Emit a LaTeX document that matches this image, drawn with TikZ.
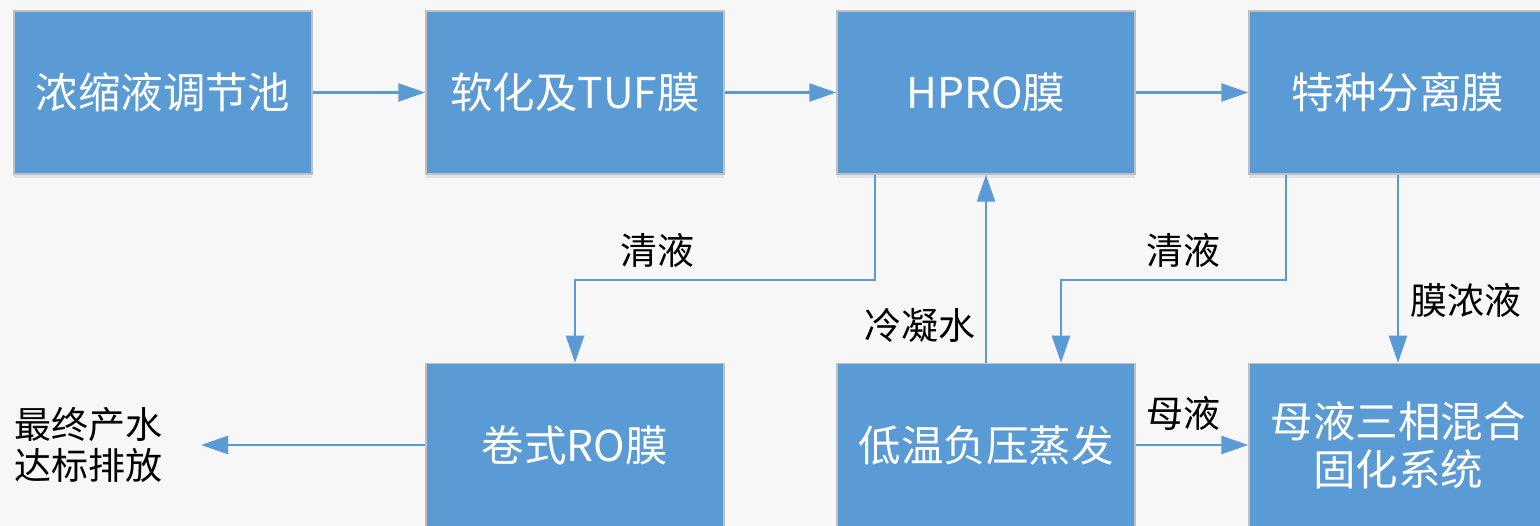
\documentclass[tikz,border=0pt]{standalone}
\usepackage{fontspec}
\setmainfont{Noto Sans CJK SC}
\usetikzlibrary{arrows.meta,shadows}
\definecolor{boxblue}{HTML}{5B9BD5}
\definecolor{boxedge}{HTML}{C0C0C0}
\definecolor{bg}{HTML}{F7F7F7}
\tikzset{
  procbox/.style={draw=boxedge, line width=1.5pt, fill=boxblue, text=white,
    minimum width=298pt, minimum height=163pt, inner sep=0pt, align=center,
    font=\fontsize{42.5}{48}\selectfont,
    drop shadow={shadow xshift=0pt, shadow yshift=-4pt, opacity=0.12, fill=boxblue!60!black}},
  arr/.style={draw=boxblue, line width=2.5pt, -{Triangle[length=27pt,width=18pt]}},
  lbl/.style={text=black, font=\fontsize{37}{41}\selectfont, inner sep=0pt, align=left}
}
\begin{document}
\begin{tikzpicture}[x=1pt,y=-1pt]
\fill[bg] (0,0) rectangle (1540,526);
\useasboundingbox (0,0) rectangle (1540,526);
\clip (0,0) rectangle (1540,526);

\node[procbox] (b1) at (163,92.5) {浓缩液调节池};
\node[procbox] (b2) at (575,92.5) {软化及TUF膜};
\node[procbox] (b3) at (986,92.5) {HPRO膜};
\node[procbox] (b4) at (1398,92.5) {特种分离膜};
\node[procbox] (ro) at (575,445) {卷式RO膜};
\node[procbox] (ev) at (986,445) {低温负压蒸发};
\node[procbox] (mix) at (1398,445) {母液三相混合\\固化系统};

\node[lbl, anchor=west] (out) at (14,445) {最终产水\\达标排放};
\coordinate (outtip) at (201,445);

\node[lbl] (l1) at (657,250) {清液};
\node[lbl] (l2) at (920,325) {冷凝水};
\node[lbl] (l3) at (1183,250) {清液};
\node[lbl] (l4) at (1466,300) {膜浓液};
\node[lbl] (l5) at (1183,413) {母液};

\draw[arr] (b1) -- (b2);
\draw[arr] (b2) -- (b3);
\draw[arr] (b3) -- (b4);

\coordinate (k1) at (875,280);
\draw[arr] (b3.south -| k1) -- (k1) -| (ro.north);

\coordinate (k2) at (1286,280);
\coordinate (k3) at (1061,280);
\draw[arr] (b4.south -| k2) -- (k2) -- (k3) -- (ev.north -| k3);

\draw[arr] (ev) -- (b3);
\draw[arr] (b4) -- (mix);
\draw[arr] (ev) -- (mix);
\draw[arr] (ro) -- (outtip);
\end{tikzpicture}
\end{document}
